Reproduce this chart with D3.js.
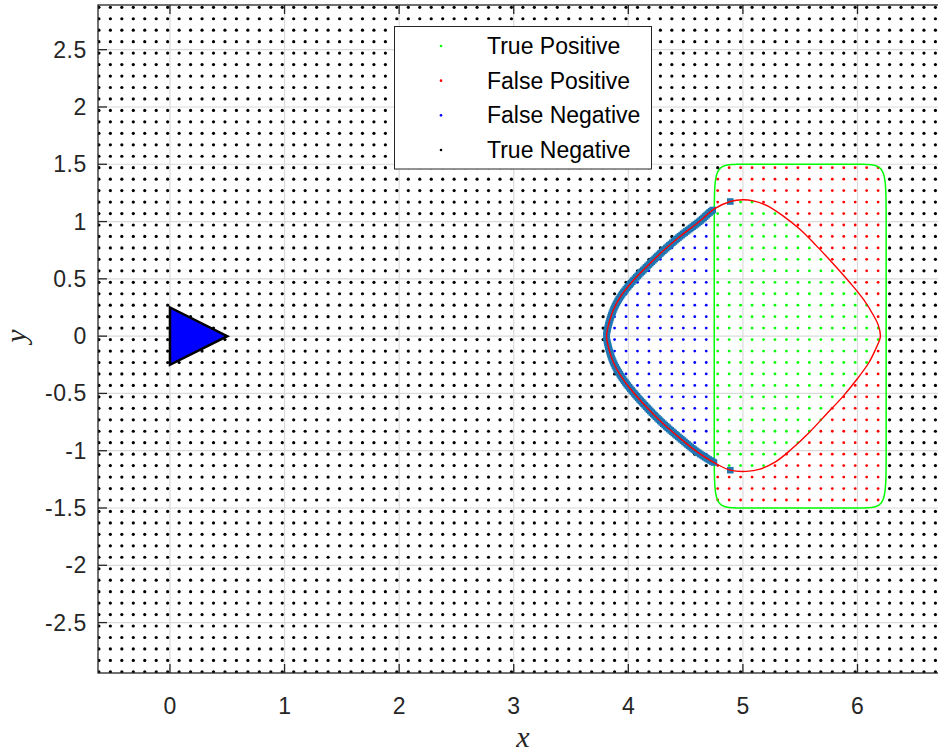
<!DOCTYPE html>
<html>
<head>
<meta charset="utf-8">
<script src="https://cdn.jsdelivr.net/npm/d3@7"></script>
<style>
  html, body { margin: 0; padding: 0; background: #fff; }
  svg { display: block; }
</style>
</head>
<body>
<div id="chart"></div>
<script>
// ticks
const xTicks = [0, 1, 2, 3, 4, 5, 6];
const yTicks = [-2.5, -2, -1.5, -1, -0.5, 0, 0.5, 1, 1.5, 2, 2.5];

// legend
const legendLabels = ["True Positive", "False Positive", "False Negative", "True Negative"];
const legendColors = ["#00ff00", "#ff0000", "#0000ff", "#000000"];

// sample lattice (meshgrid of test points)
const gridX0 = -0.62, gridY0 = -2.93, gridStep = 0.1, gridNX = 74, gridNY = 59;

// robot triangle
const triangleX = [0, 0, 0.5];
const triangleY = [0.25, -0.25, 0];

// ground-truth box (super-ellipse)
const boxCX = 5.5, boxCY = 0, boxHalfW = 0.75, boxHalfH = 1.51, boxPow = 16;

// estimated region boundary (red curve)
const curveX = [6.20, 6.18, 6.14, 6.06, 5.94, 5.79, 5.64, 5.50, 5.35, 5.21, 5.09, 5.00, 4.89, 4.75, 4.62, 4.45, 4.30, 4.16, 4.03, 3.93, 3.87, 3.83, 3.81,
                3.83, 3.87, 3.93, 4.01, 4.16, 4.30, 4.45, 4.60, 4.76, 4.89, 5.03, 5.15, 5.28, 5.42, 5.57, 5.72, 5.87, 6.00, 6.10, 6.16, 6.19];
const curveY = [0.00, 0.10, 0.18, 0.31, 0.46, 0.63, 0.79, 0.93, 1.05, 1.14, 1.18, 1.19, 1.175, 1.11, 1.00, 0.87, 0.74, 0.605, 0.47, 0.343, 0.23, 0.11, 0.00,
                -0.11, -0.23, -0.34, -0.45, -0.62, -0.76, -0.89, -1.01, -1.11, -1.17, -1.18, -1.16, -1.10, -0.99, -0.85, -0.69, -0.53, -0.37, -0.23, -0.11, -0.04];

// separate detection markers near the top/bottom of the curve
const markerExtraX = [4.89, 4.89];
const markerExtraY = [1.175, -1.17];

const W = 938, H = 752;
const mLeft = 98, mTop = 5, plotW = 842, plotH = 668;

const x = d3.scaleLinear().domain([-0.628, 6.72]).range([mLeft, mLeft + plotW]);
const y = d3.scaleLinear().domain([-2.94, 2.89]).range([mTop + plotH, mTop]);

const svg = d3.select("#chart").append("svg")
  .attr("width", W).attr("height", H)
  .style("font-family", "'Liberation Sans', Arial, sans-serif");

svg.append("defs").append("clipPath").attr("id", "clip")
  .append("rect").attr("x", mLeft).attr("y", mTop).attr("width", plotW).attr("height", plotH);

// grid lines
const grid = svg.append("g");
grid.selectAll(".gx").data(xTicks).enter().append("line")
  .attr("x1", d => x(d)).attr("x2", d => x(d))
  .attr("y1", mTop).attr("y2", mTop + plotH)
  .attr("stroke", "#dadada").attr("stroke-width", 1.2);
grid.selectAll(".gy").data(yTicks).enter().append("line")
  .attr("x1", mLeft).attr("x2", mLeft + plotW)
  .attr("y1", d => y(d)).attr("y2", d => y(d))
  .attr("stroke", "#dadada").attr("stroke-width", 1.2);

const plot = svg.append("g").attr("clip-path", "url(#clip)");

// red curve path (built first so we can sample it)
const curvePts = curveX.map((v, i) => [x(v), y(curveY[i])]);
const curveLine = d3.line().curve(d3.curveCatmullRomClosed.alpha(0.5));
const tmpPath = svg.append("path").attr("d", curveLine(curvePts)).attr("fill", "none").attr("stroke", "none");
const node = tmpPath.node();
const total = node.getTotalLength();
const curvePoly = [];
for (let s = 0; s < total; s += 1) {
  const p = node.getPointAtLength(s);
  curvePoly.push([p.x, p.y]);
}
tmpPath.remove();

function inBox(vx, vy) {
  return Math.pow(Math.abs(vx - boxCX) / boxHalfW, boxPow) + Math.pow(Math.abs(vy - boxCY) / boxHalfH, boxPow) <= 1;
}

// lattice points and their class
const points = [];
for (let i = 0; i < gridNX; i++) {
  for (let j = 0; j < gridNY; j++) {
    const vx = gridX0 + i * gridStep, vy = gridY0 + j * gridStep;
    const inside = d3.polygonContains(curvePoly, [x(vx), y(vy)]);
    const truth = inBox(vx, vy);
    let c = 3;
    if (truth && inside) c = 0;
    else if (truth && !inside) c = 1;
    else if (!truth && inside) c = 2;
    points.push({vx, vy, c});
  }
}

plot.selectAll(".pt").data(points).enter().append("circle")
  .attr("cx", d => x(d.vx)).attr("cy", d => y(d.vy))
  .attr("r", d => d.c === 3 ? 1.6 : 1.4)
  .attr("fill", d => legendColors[d.c]);

// triangle
const triPts = triangleX.map((v, i) => [x(v), y(triangleY[i])]);
plot.append("polygon")
  .attr("points", triPts.map(p => p.join(",")).join(" "))
  .attr("fill", "#0000ff").attr("stroke", "#000").attr("stroke-width", 2.5)
  .attr("stroke-linejoin", "miter");

// ground-truth box
const boxPts = d3.range(0, 1440).map(k => {
  const t = k / 1440 * 2 * Math.PI;
  const c = Math.cos(t), s = Math.sin(t);
  return [x(boxCX + boxHalfW * Math.sign(c) * Math.pow(Math.abs(c), 2 / boxPow)),
          y(boxCY + (boxHalfH - 0.01) * Math.sign(s) * Math.pow(Math.abs(s), 2 / boxPow))];
});
plot.append("path")
  .attr("d", d3.line().curve(d3.curveLinearClosed)(boxPts))
  .attr("fill", "none").attr("stroke", "#00ff00").attr("stroke-width", 1.5);

// detection markers along the curve outside the box
const markers = curvePoly.filter((p, k) => k % 2 === 0 && !inBox(x.invert(p[0]), y.invert(p[1])));
markerExtraX.forEach((v, i) => markers.push([x(v), y(markerExtraY[i])]));
plot.selectAll(".mk").data(markers).enter().append("rect")
  .attr("x", d => d[0] - 3.3).attr("y", d => d[1] - 3.3)
  .attr("width", 6.6).attr("height", 6.6)
  .attr("fill", "#1f77b4");

// red curve on top
plot.append("path")
  .attr("d", curveLine(curvePts))
  .attr("fill", "none").attr("stroke", "#ff0000").attr("stroke-width", 1.4);

// axes box and ticks
const axisColor = "#262626";
svg.append("rect").attr("x", mLeft).attr("y", mTop).attr("width", plotW).attr("height", plotH)
  .attr("fill", "none").attr("stroke", axisColor).attr("stroke-width", 1.3);

const tickLen = 9;
xTicks.forEach(t => {
  svg.append("line").attr("x1", x(t)).attr("x2", x(t)).attr("y1", mTop + plotH).attr("y2", mTop + plotH - tickLen)
    .attr("stroke", axisColor).attr("stroke-width", 1.3);
  svg.append("line").attr("x1", x(t)).attr("x2", x(t)).attr("y1", mTop).attr("y2", mTop + tickLen)
    .attr("stroke", axisColor).attr("stroke-width", 1.3);
});
yTicks.forEach(t => {
  svg.append("line").attr("x1", mLeft).attr("x2", mLeft + tickLen).attr("y1", y(t)).attr("y2", y(t))
    .attr("stroke", axisColor).attr("stroke-width", 1.3);
});

svg.selectAll(".xl").data(xTicks).enter().append("text")
  .attr("x", d => x(d)).attr("y", 714)
  .attr("text-anchor", "middle").attr("font-size", 23).attr("fill", axisColor)
  .text(d => d);
svg.selectAll(".yl").data(yTicks).enter().append("text")
  .attr("x", 87).attr("y", d => y(d) + 8)
  .attr("text-anchor", "end").attr("font-size", 23).attr("letter-spacing", 0.6).attr("fill", axisColor)
  .text(d => d);

// axis labels
svg.append("text").attr("x", 523).attr("y", 747)
  .attr("text-anchor", "middle").attr("font-size", 30)
  .attr("font-family", "'Liberation Serif', 'DejaVu Serif', serif").attr("font-style", "italic")
  .attr("fill", axisColor).text("x");
svg.append("text").attr("transform", "translate(26,336) rotate(-90)")
  .attr("text-anchor", "middle").attr("font-size", 30)
  .attr("font-family", "'Liberation Serif', 'DejaVu Serif', serif").attr("font-style", "italic")
  .attr("fill", axisColor).text("y");

// legend
const lg = svg.append("g");
lg.append("rect").attr("x", 394.5).attr("y", 26.5).attr("width", 257).attr("height", 142.5)
  .attr("fill", "#fff").attr("stroke", axisColor).attr("stroke-width", 1);
const rowY = d3.scaleLinear().domain([0, 3]).range([46, 150]);
legendLabels.forEach((lab, i) => {
  lg.append("circle").attr("cx", 441).attr("cy", rowY(i)).attr("r", 1.3).attr("fill", legendColors[i]);
  lg.append("text").attr("x", 487).attr("y", rowY(i) + 8)
    .attr("font-size", 23).attr("fill", "#000").text(lab);
});
</script>
</body>
</html>
